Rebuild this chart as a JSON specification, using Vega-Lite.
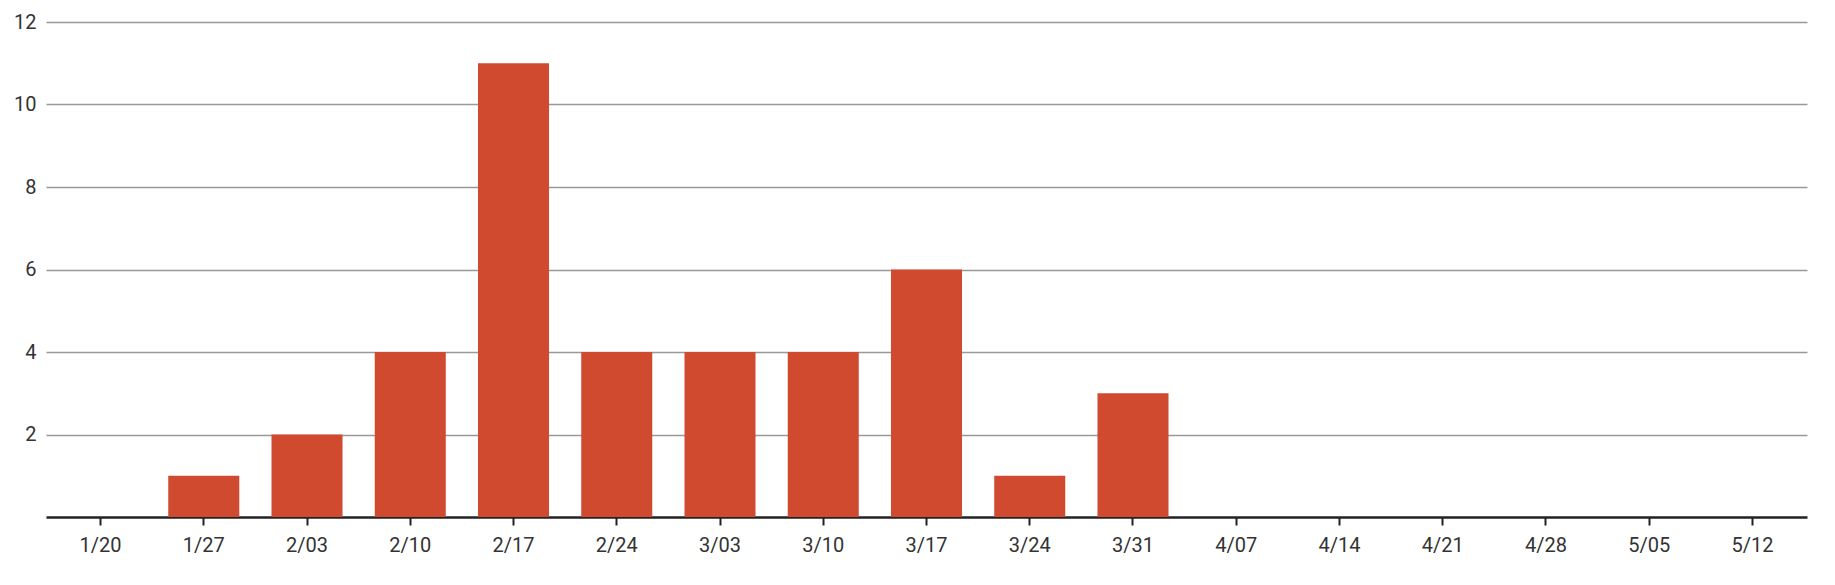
{
  "$schema": "https://vega.github.io/schema/vega-lite/v6.json",
  "width": 1761,
  "height": 495,
  "autosize": {"type": "none"},
  "padding": {"left": 46, "top": 22, "right": 28, "bottom": 68},
  "background": "white",
  "config": {"view": {"stroke": null}},
  "data": {"values": [
    {"week": "1/20", "count": 0},
    {"week": "1/27", "count": 1},
    {"week": "2/03", "count": 2},
    {"week": "2/10", "count": 4},
    {"week": "2/17", "count": 11},
    {"week": "2/24", "count": 4},
    {"week": "3/03", "count": 4},
    {"week": "3/10", "count": 4},
    {"week": "3/17", "count": 6},
    {"week": "3/24", "count": 1},
    {"week": "3/31", "count": 3},
    {"week": "4/07", "count": 0},
    {"week": "4/14", "count": 0},
    {"week": "4/21", "count": 0},
    {"week": "4/28", "count": 0},
    {"week": "5/05", "count": 0},
    {"week": "5/12", "count": 0}
  ]},
  "mark": {"type": "bar", "color": "#D04A30"},
  "encoding": {
    "x": {
      "field": "week", "type": "ordinal", "sort": null,
      "scale": {"paddingInner": 0.312, "paddingOuter": 0.184},
      "axis": {
        "title": null, "labelAngle": 0,
        "labelFont": "Roboto", "labelFontSize": 20, "labelColor": "#333",
        "labelPadding": 10,
        "domainColor": "#222", "domainWidth": 2.5,
        "tickColor": "#222", "tickWidth": 2, "tickSize": 8
      }
    },
    "y": {
      "field": "count", "type": "quantitative",
      "scale": {"domain": [0, 12], "nice": false},
      "axis": {
        "title": null, "values": [2, 4, 6, 8, 10, 12],
        "domain": false, "ticks": false,
        "labelFont": "Roboto", "labelFontSize": 20, "labelColor": "#333",
        "labelPadding": 10,
        "gridColor": "#999", "gridWidth": 1.5
      }
    }
  }
}
